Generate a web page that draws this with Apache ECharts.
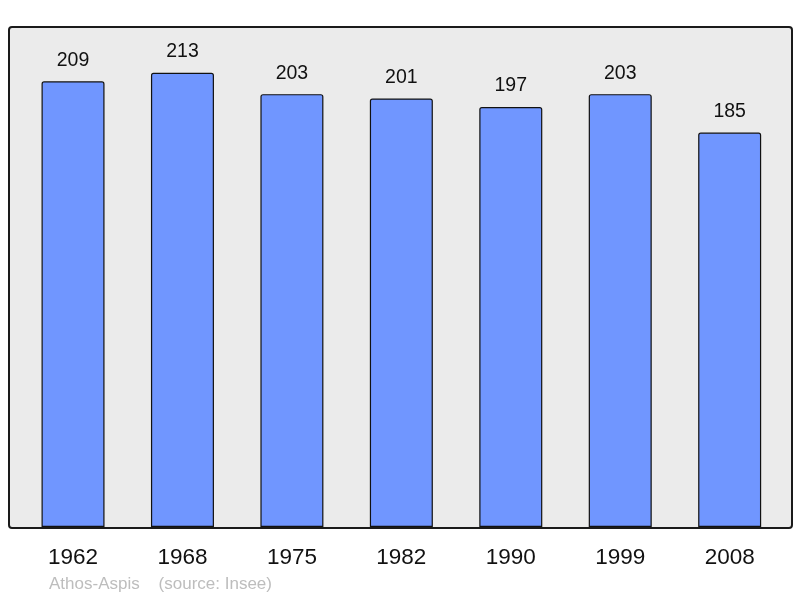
<!DOCTYPE html>
<html><head><meta charset="utf-8">
<script src="https://cdn.jsdelivr.net/npm/echarts@6/dist/echarts.min.js"></script>
<style>html,body{margin:0;padding:0;background:#fff}#c{width:800px;height:598px}</style>
</head><body><div id="c"></div>
<script>
const years = ['1962','1968','1975','1982','1990','1999','2008'];
const population = [209, 213, 203, 201, 197, 203, 185];
const sourceText = 'Athos-Aspis    (source: Insee)';

const chart = echarts.init(document.getElementById('c'), null, {renderer:'canvas'});
chart.setOption({
  animation:false,
  backgroundColor:'#ffffff',
  textStyle:{fontFamily:'Liberation Sans, Arial, sans-serif'},
  graphic:[
    {type:'rect', z:-10, shape:{x:9,y:27,width:783,height:501,r:3},
     style:{fill:'#ebebeb', stroke:'#1a1a1a', lineWidth:2}},
    {type:'text', left:49, top:576, z:10,
     style:{text:sourceText, fill:'#bdbdbd', font:'17px "Liberation Sans", Arial, sans-serif'}}
  ],
  grid:{left:18.3, right:15.6, top:27, bottom:71, containLabel:false},
  xAxis:{type:'category', data:years,
    axisLine:{show:false}, axisTick:{show:false}, splitLine:{show:false},
    axisLabel:{fontSize:22.5, color:'#111', margin:19, fontFamily:'Liberation Sans'}},
  yAxis:{type:'value', min:0, max:234.5, show:false, splitLine:{show:false}},
  series:[{
    type:'bar', data:population, barWidth:63,
    itemStyle:{color:'#7096ff', borderColor:'#111', borderWidth:1.2, borderRadius:[2,2,0,0]},
    label:{show:true, position:'top', distance:11, fontSize:19.5, color:'#111', fontFamily:'Liberation Sans'}
  }]
});
</script></body></html>
